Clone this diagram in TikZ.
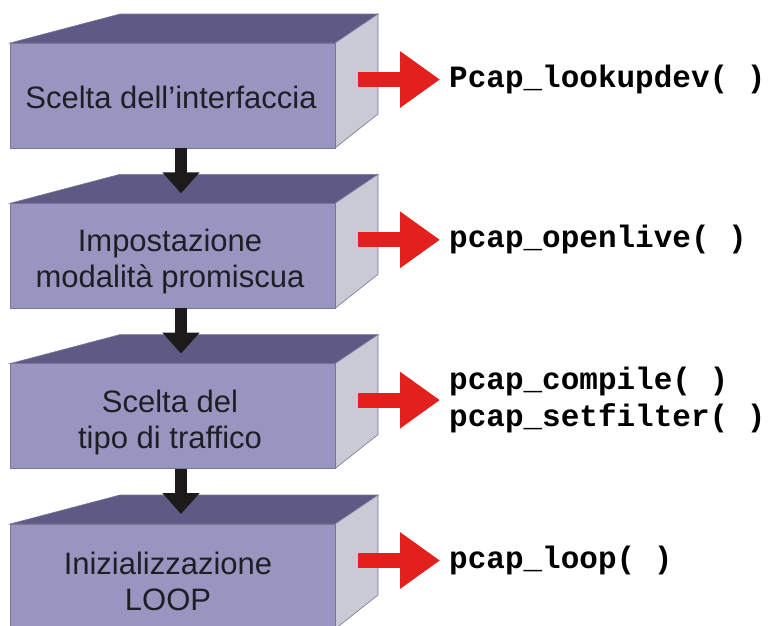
\documentclass[tikz,border=0pt]{standalone}
\usepackage{fontspec}
\setmainfont{Liberation Sans}
\newfontfamily\codefont{Liberation Mono}
\usetikzlibrary{arrows.meta}
\definecolor{frontc}{RGB}{152,150,192}
\definecolor{topc}{RGB}{94,90,134}
\definecolor{sidec}{RGB}{202,202,214}
\definecolor{edgec}{RGB}{120,118,150}
\definecolor{redc}{RGB}{226,32,30}
\definecolor{txtc}{RGB}{30,30,36}
\definecolor{arrc}{RGB}{28,26,26}
\tikzset{
  facefront/.style={fill=frontc,draw=edgec,line width=0.6pt},
  facetop/.style={fill=topc,draw=edgec,line width=0.6pt},
  faceside/.style={fill=sidec,draw=edgec,line width=0.6pt},
  boxtext/.style={font=\fontsize{31}{36}\selectfont,text=txtc,align=center,inner sep=0pt,anchor=base},
  codetext/.style={font=\codefont\bfseries\fontsize{31}{37}\selectfont,text=black,align=left,inner xsep=9pt,inner ysep=0pt,anchor=west},
  downarrow/.style={draw=arrc,line width=12pt,-{Triangle[length=21pt,width=36pt]}},
  redarrow/.style={draw=redc,line width=15pt,-{Triangle[length=40pt,width=54pt]}}
}
\begin{document}
\begin{tikzpicture}[x=1pt,y=-1pt]
\useasboundingbox (0,0) rectangle (769,625);
\fill[white] (0,0) rectangle (769,625);
\begin{scope}
\clip (0,0) rectangle (769,625);
\foreach \i/\t in {1/14,2/174.3,3/334.6,4/495}{
  \path[facetop] (10,\t+29) -- (120,\t) -- (378,\t) -- (335,\t+29) -- cycle;
  \path[faceside] (335,\t+29) -- (378,\t) -- (378,\t+100) -- (335,\t+134) -- cycle;
  \path[facefront] (10,\t+29) rectangle (335,\t+134);
  \coordinate (b\i-bot) at (181,\t+134);
  \coordinate (b\i-tip) at (181,\t+19);
  \coordinate (b\i-out) at (358,\t+65.5);
}
\end{scope}

\node[boxtext] (t1) at (171,108) {Scelta dell’interfaccia};
\node[boxtext] (t2) at (170,287.5) {Impostazione\\modalità promiscua};
\node[boxtext] (t3) at (170,448.5) {Scelta del\\tipo di traffico};
\node[boxtext] (t4) at (168,610) {Inizializzazione\\LOOP};

\node[codetext] (c1) at (440,79.5) {Pcap\_lookupdev( )};
\node[codetext] (c2) at (440,239.8) {pcap\_openlive( )};
\node[codetext] (c3) at (440,400.1) {pcap\_compile( )\\pcap\_setfilter( )};
\node[codetext] (c4) at (440,560.5) {pcap\_loop( )};

\draw[downarrow] (b1-bot) -- (b2-tip);
\draw[downarrow] (b2-bot) -- (b3-tip);
\draw[downarrow] (b3-bot) -- (b4-tip);

\draw[redarrow] (b1-out) -- (c1.west);
\draw[redarrow] (b2-out) -- (c2.west);
\draw[redarrow] (b3-out) -- (c3.west);
\draw[redarrow] (b4-out) -- (c4.west);
\end{tikzpicture}
\end{document}
